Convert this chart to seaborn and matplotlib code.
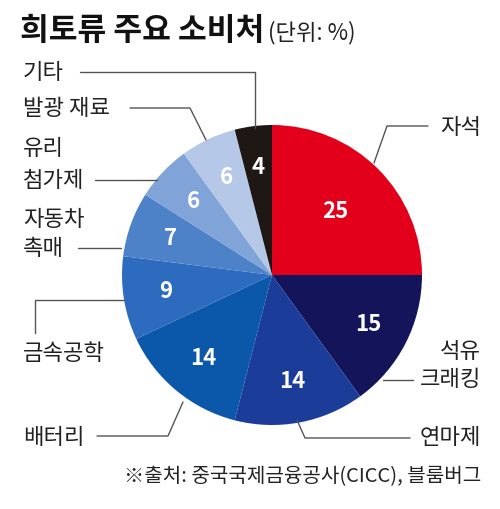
import matplotlib
matplotlib.use('Agg')
import matplotlib.pyplot as plt
import seaborn as sns
import numpy as np

# data (clockwise from 12 o'clock)
labels = ['자석', '석유\n크래킹', '연마제', '배터리', '금속공학', '자동차\n촉매', '유리\n첨가제', '발광 재료', '기타']
values = [25, 15, 14, 14, 9, 7, 6, 6, 4]
colors = ['#E3001B', '#13145A', '#1B3C98', '#0B57AA', '#2D6BBE',
          '#4E82C8', '#80A3D8', '#B6C8E8', '#1E1714']

sns.set_style('white')
plt.rcParams['font.family'] = ['Noto Sans CJK KR', 'DejaVu Sans']

W, H = 500, 509
fig = plt.figure(figsize=(5, 5.09), dpi=100)
ax = fig.add_axes([0, 0, 1, 1])

def Y(y):
    # image coords -> axis coords
    return H - y

cx, cy, R = 272, Y(275), 150
wedges, _ = ax.pie(values, colors=colors, startangle=90, counterclock=False,
                   center=(cx, cy), radius=R, wedgeprops=dict(linewidth=0))

# value labels inside the slices
for w, v in zip(wedges, values):
    ang = np.deg2rad((w.theta1 + w.theta2) / 2)
    d = 0.6 if v >= 20 else 0.72
    ax.text(cx + d * R * np.cos(ang), cy + d * R * np.sin(ang), str(v),
            ha='center', va='center', color='white', fontsize=16,
            fontweight='bold')

# leader lines
lines = [
    [(80, 72), (255, 72), (255, 128)],
    [(130, 108), (190, 108), (206, 140)],
    [(95, 180), (157, 180)],
    [(78, 248), (121, 248)],
    [(35, 333), (35, 300), (124, 300)],
    [(97, 436), (168, 436), (183, 402)],
    [(410, 438), (305, 438), (297, 420)],
    [(413, 380), (383, 380)],
    [(428, 126), (387, 126), (374, 163)],
]
for pts in lines:
    xs = [p[0] for p in pts]
    ys = [Y(p[1]) for p in pts]
    ax.plot(xs, ys, color='#555555', lw=1)

# category labels
fs = 16
tc = '#222222'
left_labels = [('기타', 72), ('발광 재료', 108), ('유리', 148), ('첨가제', 180),
               ('자동차', 219), ('촉매', 248), ('금속공학', 353), ('배터리', 438)]
for t, y in left_labels:
    ax.text(23, Y(y), t, ha='left', va='center', fontsize=fs, color=tc)
right_labels = [('자석', 127), ('석유', 352), ('크래킹', 380), ('연마제', 438)]
for t, y in right_labels:
    ax.text(481, Y(y), t, ha='right', va='center', fontsize=fs, color=tc)

# title and source
ax.text(20, Y(31), '희토류 주요 소비처', ha='left', va='center',
        fontsize=22.5, fontweight='bold', color='#111111')
ax.text(268, Y(33), '(단위: %)', ha='left', va='center', fontsize=16, color=tc)
ax.text(481, Y(477), '※출처: 중국국제금융공사(CICC), 블룸버그', ha='right',
        va='center', fontsize=14.5, color=tc)

ax.set_xlim(0, W)
ax.set_ylim(0, H)
ax.set_aspect('equal')
ax.axis('off')

plt.savefig('out.png', dpi=100, facecolor='white')
